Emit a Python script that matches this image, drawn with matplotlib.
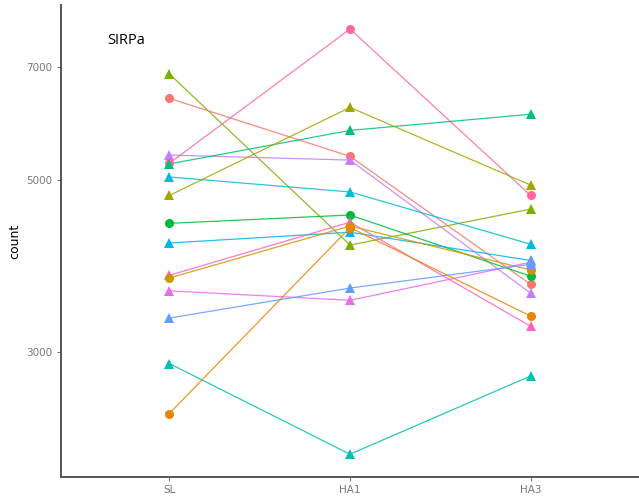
import matplotlib
matplotlib.use("Agg")
import matplotlib.pyplot as plt
from matplotlib.ticker import FixedLocator, NullLocator

# groupes de temps
categories = ["SL", "HA1", "HA3"]

# valeurs par sujet
sl_vals  = [6860, 6380, 5390, 5260, 5250, 5050, 4780, 4400, 4150, 3770, 3740, 3600, 3320, 2900, 2500]
ha1_vals = [4125, 5370, 5310, 7840, 5800, 4830, 6210, 4510, 4285, 4415, 4365, 3500, 3630, 2215, 4345]
ha3_vals = [4590, 3670, 3575, 4780, 6085, 4135, 4930, 3760, 3940, 3240, 3830, 3920, 3895, 2795, 3340]

couleurs = ["#7CAE00", "#F8766D", "#C77CFF", "#FF67A4", "#00BF7D", "#00BCD8", "#A3A500",
            "#00BA38", "#00B4EF", "#FF61C3", "#C99800", "#E76BF3", "#619CFF", "#00C0AF", "#E58700"]
formes = ["^", "o", "^", "o", "^", "^", "^", "o", "^", "^", "o", "^", "^", "^", "o"]

yticks = [3000, 5000, 7000]

fig = plt.figure(figsize=(6.39, 4.98), dpi=100)
ax = fig.add_axes([61 / 639, 21 / 498, 1 - 61 / 639, (477 - 5) / 498])

x = list(range(len(categories)))

# lignes d'abord
for i in range(len(sl_vals)):
    ys = [sl_vals[i], ha1_vals[i], ha3_vals[i]]
    ax.plot(x, ys, color=couleurs[i], linewidth=0.9, alpha=0.85, zorder=2)

# puis les points
for i in range(len(sl_vals)):
    ys = [sl_vals[i], ha1_vals[i], ha3_vals[i]]
    ms = 7.5 if formes[i] == "^" else 6.5
    ax.plot(x, ys, linestyle="none", marker=formes[i], markersize=ms,
            color=couleurs[i], markeredgewidth=0, zorder=3)

ax.set_yscale("log")
ax.set_ylim(2070, 8420)
ax.set_xlim(-0.6, 2.6)
ax.yaxis.set_major_locator(FixedLocator(yticks))
ax.yaxis.set_minor_locator(NullLocator())
ax.set_yticklabels([str(v) for v in yticks])
ax.set_xticks(x)
ax.set_xticklabels(categories)

for s in ["top", "right"]:
    ax.spines[s].set_visible(False)
for s in ["left", "bottom"]:
    ax.spines[s].set_color("#555555")
    ax.spines[s].set_linewidth(1.4)

ax.tick_params(axis="both", colors="#777777", labelcolor="#777777", labelsize=7.5,
               length=3, width=0.8, pad=3)
ax.set_ylabel("count", fontsize=9, color="black", labelpad=4)

fig.text(107 / 639, 1 - 41 / 498, "SIRPa", fontsize=10.5, family="Open Sans",
         va="center", ha="left", color="black")

fig.savefig("out.png", dpi=100)
